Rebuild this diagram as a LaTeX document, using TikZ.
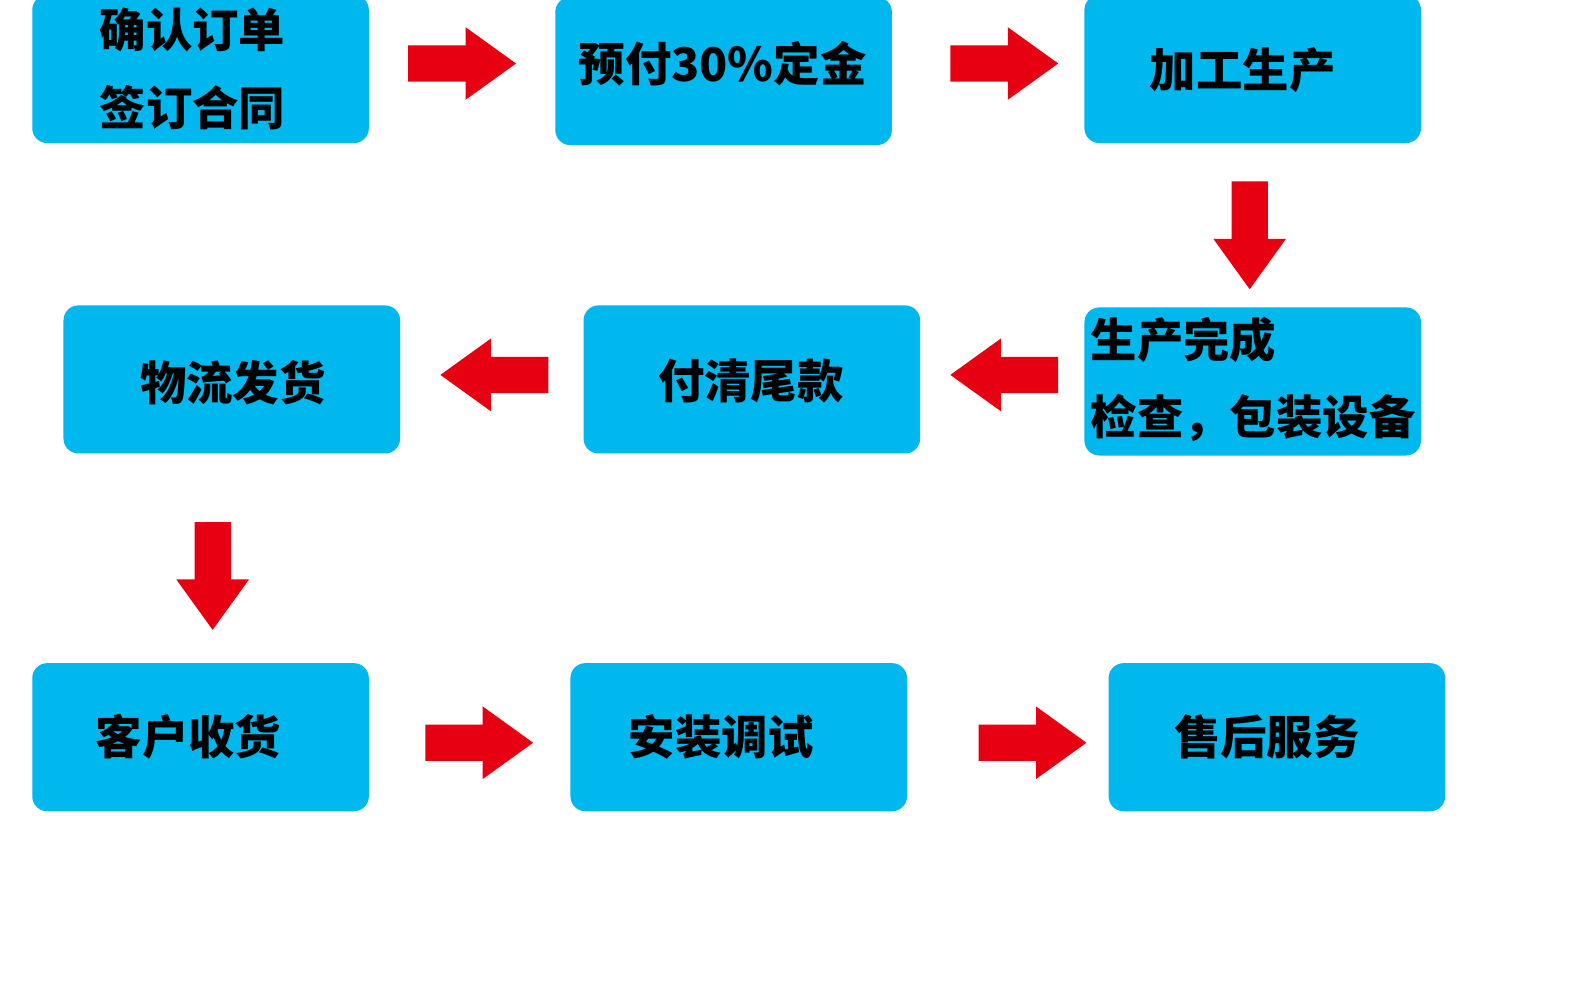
\documentclass[tikz,border=0pt]{standalone}
\usepackage{fontspec}
\setmainfont{Noto Sans CJK SC}
\begin{document}
\begin{tikzpicture}[x=1.0078pt,y=-1.0078pt]
\definecolor{boxcyan}{HTML}{00B7EE}
\definecolor{arrowred}{HTML}{E60012}
\tikzset{
  box/.style={fill=boxcyan, rounded corners=15pt, minimum width=336.6pt, minimum height=148.1pt, inner sep=0pt},
  txt/.style={font=\fontsize{46.4}{77.6}\selectfont\bfseries, text=black, inner sep=0pt, align=left},
  blockarrow/.pic={\fill[arrowred] (-53,-18) -- (4,-18) -- (4,-36) -- (54,0) -- (4,36) -- (4,18) -- (-53,18) -- cycle;}
}
\useasboundingbox (0,0) rectangle (1567.77,992.26);
\fill[white] (0,0) rectangle (1567.77,992.26);
\begin{scope}
\clip (0,0) rectangle (1567.77,992.26);
% boxes
\node[box] (b1) at (199,68.5) {};
\node[box] (b2) at (718,70.5) {};
\node[box] (b3) at (1243,68.5) {};
\node[box] (b4) at (1243,378.5) {};
\node[box] (b5) at (746,376.5) {};
\node[box] (b6) at (230,376.5) {};
\node[box] (b7) at (199,731.5) {};
\node[box] (b8) at (733,731.5) {};
\node[box] (b9) at (1267,731.5) {};
\end{scope}
% texts
\node[txt] (t1) at (191,68.5) {确认订单\\签订合同};
\node[txt] (t2) at (717,63) {预付30\%定金};
\node[txt] (t3) at (1233,70) {加工生产};
\node[txt, anchor=west] (t4) at (1082,376.5) {生产完成\\检查，包装设备};
\node[txt] (t5) at (745,378) {付清尾款};
\node[txt] (t6) at (231,380) {物流发货};
\node[txt] (t7) at (187,731) {客户收货};
\node[txt] (t8) at (716,731) {安装调试};
\node[txt] (t9) at (1257,731) {售后服务};
% arrows
\coordinate (a1) at (458,63);
\coordinate (a2) at (996,63);
\coordinate (a3) at (1240,233);
\coordinate (a4) at (997,372);
\coordinate (a5) at (491,372);
\coordinate (a6) at (211,571);
\coordinate (a7) at (475,737);
\coordinate (a8) at (1024,737);
\pic at (a1) {blockarrow};
\pic at (a2) {blockarrow};
\pic[rotate=-90] at (a3) {blockarrow};
\pic[rotate=180] at (a4) {blockarrow};
\pic[rotate=180] at (a5) {blockarrow};
\pic[rotate=-90] at (a6) {blockarrow};
\pic at (a7) {blockarrow};
\pic at (a8) {blockarrow};
\end{tikzpicture}
\end{document}
